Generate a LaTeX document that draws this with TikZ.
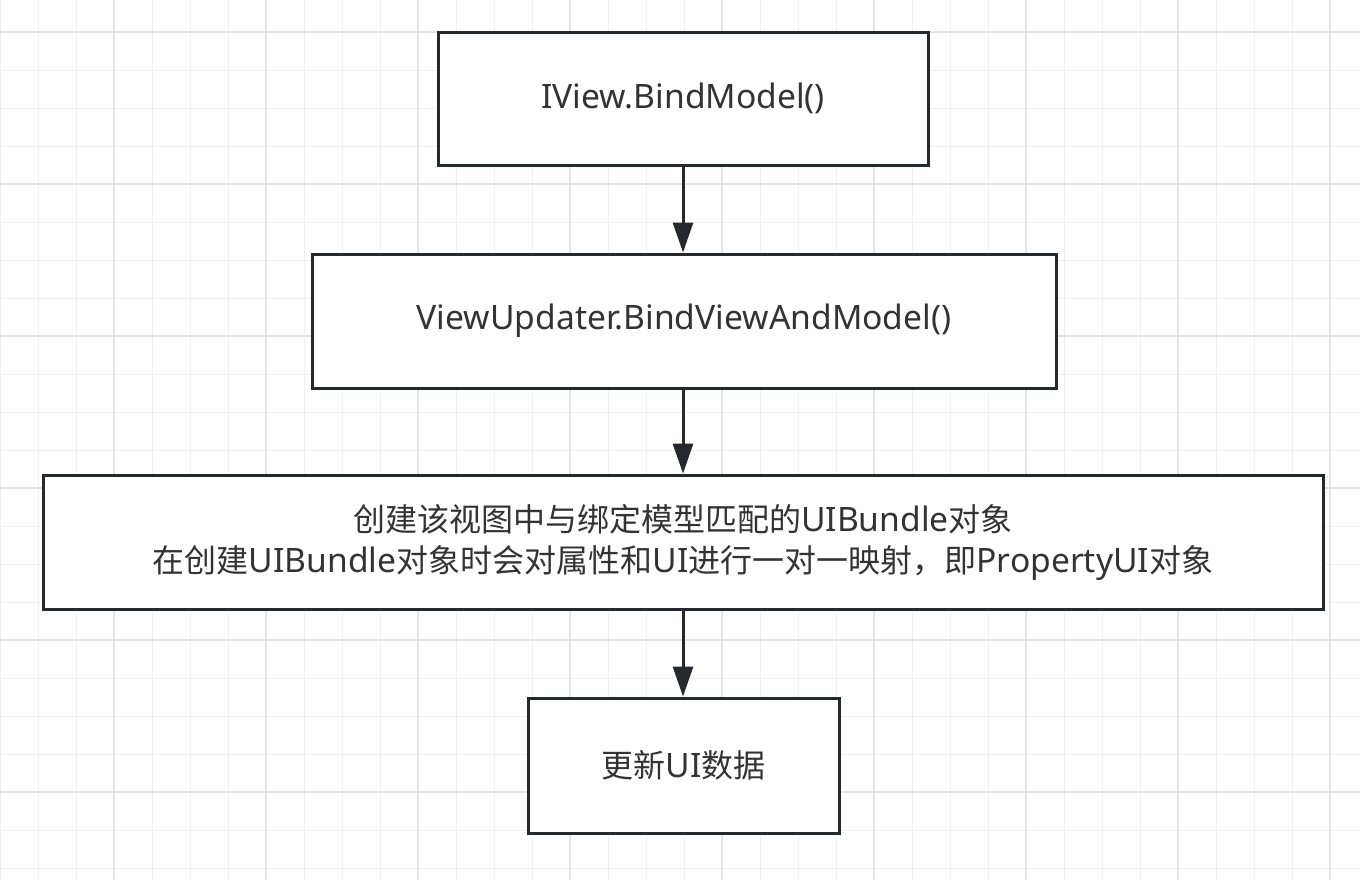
\documentclass[tikz,border=0pt]{standalone}
\usepackage{fontspec}
\setmainfont[Scale=1.05]{Noto Sans}
\newfontfamily\cjk{Noto Sans CJK SC}
\usetikzlibrary{arrows.meta}
\definecolor{bd}{RGB}{36,41,46}
\definecolor{tx}{RGB}{51,51,51}
\definecolor{gminor}{RGB}{240,240,240}
\definecolor{gmajor}{RGB}{228,228,228}
\newcommand\zh[1]{{\cjk #1}}
\begin{document}
\begin{tikzpicture}[x=0.5pt,y=-0.5pt,
  minorline/.style={draw=gminor,line width=0.5pt},
  majorline/.style={draw=gmajor,line width=1pt},
  flowbox/.style={draw=bd,fill=white,line width=1.5pt,rectangle,inner sep=0pt,
    text=tx,font=\fontsize{16}{20.5}\selectfont,align=center},
  flowarrow/.style={draw=bd,line width=1.5pt,-{Triangle[length=15pt,width=10pt]}}]
\useasboundingbox (0,0) rectangle (1360,880);
\fill[white] (0,0) rectangle (1360,880);
\foreach \x in {0,38,...,1368} \draw[minorline] (\x,0) -- (\x,880);
\foreach \y in {-6,32,...,900} \draw[minorline] (0,\y) -- (1360,\y);
\foreach \x in {114,266,...,1340} \draw[majorline] (\x,0) -- (\x,880);
\foreach \y in {32,184,...,880} \draw[majorline] (0,\y) -- (1360,\y);

\node[flowbox,minimum width=245pt,minimum height=66.5pt] (b1) at (683,98.5) {IView.BindModel()};
\node[flowbox,minimum width=372pt,minimum height=67pt] (b2) at (684,321) {ViewUpdater.BindViewAndModel()};
\node[flowbox,minimum width=640pt,minimum height=67pt] (b3) at (683,542)
  {\zh{创建该视图中与绑定模型匹配的}UIBundle\zh{对象}\\
   \zh{在创建}UIBundle\zh{对象时会对属性和}UI\zh{进行一对一映射，即}PropertyUI\zh{对象}};
\node[flowbox,minimum width=155.5pt,minimum height=67.5pt] (b4) at (683.5,765.5) {\zh{更新}UI\zh{数据}};

\draw[flowarrow] (b1.south -| 683,0) -- (b2.north -| 683,0);
\draw[flowarrow] (b2.south -| 683,0) -- (b3.north -| 683,0);
\draw[flowarrow] (b3.south -| 683,0) -- (b4.north -| 683,0);
\end{tikzpicture}
\end{document}
